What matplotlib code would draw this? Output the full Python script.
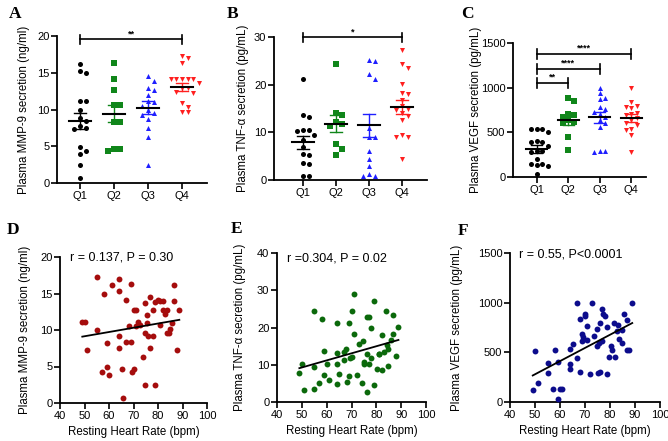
import numpy as np
import matplotlib
matplotlib.use("Agg")
import matplotlib.pyplot as plt

plt.rcParams['font.family'] = ['Liberation Sans', 'DejaVu Sans']

W, H = 668, 441

# ---------------- data ----------------
groups = ["Q1", "Q2", "Q3", "Q4"]

mmp9_q1 = [16.2, 15.3, 15.0, 11.2, 11.2, 9.9, 8.9, 8.5, 7.7, 7.5, 7.4, 4.9, 4.3, 3.9, 2.5, 0.7]
mmp9_q2 = [16.3, 14.2, 12.65, 10.6, 10.6, 8.25, 8.25, 4.6, 4.6, 4.35]
mmp9_q3 = [14.5, 13.9, 12.9, 12.7, 12.0, 11.1, 11.0, 10.5, 9.9, 9.5, 9.3, 8.7, 7.5, 6.3, 2.4]
mmp9_q4 = [17.3, 17.0, 16.3, 14.2, 14.2, 14.1, 14.1, 14.1, 13.6, 12.9, 12.9, 12.4, 12.2, 10.9, 10.4, 9.7, 9.6]
mmp9_mean = [8.44, 9.43, 10.24, 13.06]
mmp9_sem = [1.07, 1.17, 0.87, 0.6]

tnf_q1 = [21.2, 13.6, 13.2, 10.4, 10.4, 10.3, 9.4, 8.4, 7.0, 5.4, 5.2, 3.5, 3.3, 0.9, 0.9]
tnf_q2 = [24.3, 14.1, 13.6, 12.2, 11.8, 11.3, 7.5, 6.6, 5.3]
tnf_q3 = [25.1, 25.0, 22.2, 21.2, 11.0, 9.1, 9.0, 6.0, 4.5, 3.0, 1.2, 0.8, 0.8]
tnf_q4 = [27.2, 24.4, 23.4, 20.2, 18.3, 18.0, 16.7, 15.5, 15.0, 14.6, 14.0, 13.4, 12.6, 9.4, 9.1, 9.0, 4.5]
tnf_mean = [7.9, 11.8, 11.5, 15.3]
tnf_sem = [1.3, 1.8, 2.45, 1.5]

vegf_q1 = [533, 533, 508, 533, 403, 388, 388, 345, 291, 291, 284, 201, 142, 142, 134, 123, 30]
vegf_q2 = [885, 850, 705, 690, 668, 640, 615, 600, 448, 300]
vegf_q3 = [998, 935, 885, 870, 780, 760, 725, 700, 670, 640, 610, 555, 292, 292, 285]
vegf_q4 = [1000, 840, 795, 785, 770, 720, 705, 690, 655, 635, 605, 580, 535, 530, 470, 285]
vegf_mean = [313, 638, 668, 657]
vegf_sem = [40, 56, 65, 45]

sig_a = [("Q1", "Q4", 19.55, "**")]
sig_b = [("Q1", "Q4", 29.9, "*")]
sig_c = [("Q1", "Q4", 1377, "****"), ("Q1", "Q3", 1209, "****"), ("Q1", "Q2", 1056, "**")]

hr_d = [49.1, 50.2, 51.2, 55.2, 55.2, 57.0, 58.0, 59.1, 59.1, 60.0, 61.2, 63.9, 63.9, 63.9, 64.1, 65.2, 65.9,
        67.0, 67.0, 68.0, 69.0, 69.0, 69.3, 70.0, 70.0, 71.0, 71.1, 71.8, 72.7, 73.8, 74.8, 74.8, 74.8, 75.7,
        75.7, 76.1, 76.8, 76.8, 77.8, 77.9, 78.9, 78.9, 79.8, 80.9, 80.9, 81.9, 81.9, 82.7, 83.6, 83.6, 84.6,
        85.0, 85.7, 86.6, 86.6, 87.7, 88.7]
mmp9_d = [11.1, 11.1, 7.2, 17.3, 10.0, 4.3, 15.0, 4.95, 8.2, 3.9, 16.2, 17.0, 15.3, 9.2, 7.6, 4.6, 0.7,
          14.1, 8.3, 10.5, 16.3, 8.3, 4.3, 4.6, 12.7, 12.7, 10.6, 11.1, 10.7, 6.3, 13.7, 9.6, 2.4, 12.1,
          10.9, 9.2, 14.5, 7.6, 12.7, 9.2, 13.9, 2.4, 14.1, 14.0, 10.7, 14.0, 12.7, 12.2, 12.7, 9.6, 9.6,
          10.2, 10.9, 16.2, 14.0, 7.3, 12.8]

hr_e = [49.0, 50.0, 51.0, 55.0, 55.0, 55.0, 57.0, 58.1, 59.0, 59.0, 60.1, 61.0, 64.1, 64.1, 64.1, 64.1, 65.0,
        67.0, 67.0, 67.8, 68.1, 69.0, 69.0, 69.5, 70.1, 70.1, 71.0, 71.0, 72.1, 73.2, 74.1, 74.8, 75.1, 75.1,
        76.1, 76.1, 76.1, 77.1, 77.1, 77.9, 77.9, 79.1, 79.1, 80.2, 81.1, 81.1, 82.2, 82.2, 83.1, 83.9, 84.2,
        84.8, 84.8, 85.8, 86.8, 86.8, 87.9, 88.9]
tnf_e = [7.9, 10.2, 3.1, 24.4, 9.4, 3.6, 5.2, 22.3, 13.75, 7.2, 10.2, 5.8, 21.3, 13.2, 10.3, 4.8, 7.6,
         11.2, 13.5, 14.1, 5.4, 21.1, 6.9, 11.7, 12.1, 24.3, 28.9, 18.2, 7.2, 15.6, 5.2, 16.4, 10.8, 10.2,
         22.7, 12.9, 2.7, 22.7, 10.2, 19.8, 11.7, 27.1, 4.5, 8.8, 13.0, 12.8, 18.0, 8.5, 13.3, 24.4, 15.3,
         14.2, 9.6, 16.6, 23.4, 18.2, 12.3, 20.2]

hr_f = [49.1, 50.0, 51.1, 55.1, 55.1, 57.0, 58.0, 59.0, 59.1, 60.0, 60.9, 64.0, 64.0, 64.0, 65.1, 66.9, 66.9,
        68.0, 68.0, 68.9, 68.9, 69.3, 70.0, 70.0, 70.9, 70.9, 72.0, 72.9, 73.7, 74.7, 74.9, 75.1, 75.6, 76.0,
        76.0, 76.7, 76.7, 77.3, 78.0, 78.9, 78.9, 79.7, 80.4, 80.9, 81.6, 82.0, 82.7, 83.3, 83.7, 84.7, 84.7,
        85.6, 86.7, 86.7, 87.7, 88.9]
vegf_f = [125, 512, 196, 388, 287, 135, 522, 398, 27, 135, 135, 529, 381, 330, 583, 1001, 438,
          836, 297, 681, 613, 650, 886, 870, 765, 623, 280, 1001, 667, 735, 566, 293, 596, 792,
          297, 934, 617, 886, 870, 758, 280, 455, 566, 522, 792, 455, 715, 775, 634, 725, 590,
          886, 826, 522, 522, 1001]

stat_d = "r = 0.137, P = 0.30"
stat_e = "r =0.304, P = 0.02"
stat_f = "r = 0.55, P<0.0001"

# ---------------- helpers ----------------
fig = plt.figure(figsize=(W / 100, H / 100), dpi=100)


def add_ax(left, right, top, bottom):
    return fig.add_axes([left / W, 1 - bottom / H, (right - left) / W, (bottom - top) / H])


def style(ax):
    for s in ["top", "right"]:
        ax.spines[s].set_visible(False)
    for s in ["left", "bottom"]:
        ax.spines[s].set_linewidth(1.3)
    ax.tick_params(direction="out", length=4, width=1.2, labelsize=8, pad=1.5)


def swarm(vals, ppu_x, ppu_y, diam=5.6):
    vals = np.asarray(vals, float)
    order = np.argsort(-vals, kind="stable")
    placed = []
    offs = np.zeros(len(vals))
    cands = [0, 1, -1, 2, -2, 3, -3, 4, -4]
    for i in order:
        y = vals[i] * ppu_y
        for c in cands:
            x = c * diam
            if all((x - px) ** 2 + (y - py) ** 2 >= (0.95 * diam) ** 2 for px, py in placed):
                break
        placed.append((x, y))
        offs[i] = x / ppu_x
    return offs


colors = ["black", "#10861a", "#1f1fff", "#ff1f1f"]
markers = ["o", "s", "^", "v"]


def dotplot(ax, series, means, sems, ylim, yticks, ylabel, sigs, ppu_x, ppu_y, xlim, tick_dy):
    for i, vals in enumerate(series):
        x0 = i + 1
        offs = swarm(vals, ppu_x, ppu_y)
        ax.scatter(x0 + offs, vals, s=13, marker=markers[i], color=colors[i], lw=0, zorder=3, clip_on=False)
        m, e = means[i], sems[i]
        ax.plot([x0, x0], [m - e, m + e], color=colors[i], lw=1.0, zorder=4)
        ax.plot([x0 - 0.17, x0 + 0.17], [m + e, m + e], color=colors[i], lw=1.0, zorder=4)
        ax.plot([x0 - 0.17, x0 + 0.17], [m - e, m - e], color=colors[i], lw=1.0, zorder=4)
        ax.plot([x0 - 0.33, x0 + 0.33], [m, m], color="black", lw=1.5, zorder=5)
    for a, b, y, txt in sigs:
        xa, xb = groups.index(a) + 1, groups.index(b) + 1
        ax.plot([xa, xb], [y, y], color="black", lw=1.2, clip_on=False)
        for xx in (xa, xb):
            ax.plot([xx, xx], [y - tick_dy, y + tick_dy], color="black", lw=1.2, clip_on=False)
        ax.text((xa + xb) / 2, y + tick_dy * 0.25, txt, ha="center", va="bottom", fontsize=6.5,
                fontweight="bold", clip_on=False)
    ax.set_xlim(*xlim)
    ax.set_ylim(*ylim)
    ax.set_yticks(yticks)
    ax.set_xticks(range(1, 5))
    ax.set_xticklabels(groups)
    ax.set_ylabel(ylabel, fontsize=8.3)
    style(ax)


def corrplot(ax, x, y, color, ylim, yticks, ylabel, stat, stat_pos):
    ax.scatter(x, y, s=18, color=color, lw=0, zorder=3, clip_on=False)
    k, b = np.polyfit(x, y, 1)
    xs = np.array([min(x), max(x)])
    ax.plot(xs, k * xs + b, color="black", lw=1.3, zorder=4)
    ax.set_xlim(40, 100)
    ax.set_xticks(range(40, 101, 10))
    ax.set_ylim(*ylim)
    ax.set_yticks(yticks)
    ax.set_ylabel(ylabel, fontsize=8.3)
    ax.set_xlabel("Resting Heart Rate (bpm)", fontsize=8.3, labelpad=4)
    ax.text(stat_pos[0], stat_pos[1], stat, transform=ax.transAxes, fontsize=9, va="center", ha="left")
    style(ax)


# ---------------- panels ----------------
axA = add_ax(57, 207, 36, 183)
dotplot(axA, [mmp9_q1, mmp9_q2, mmp9_q3, mmp9_q4], mmp9_mean, mmp9_sem, (0, 20), range(0, 21, 5),
        "Plasma MMP-9 secretion (ng/ml)", sig_a, 34, 7.35, (0.324, 4.735), 0.6)
axA.yaxis.set_label_coords((30 - 57) / 150, 0.5)

axB = add_ax(274, 427, 37, 180)
dotplot(axB, [tnf_q1, tnf_q2, tnf_q3, tnf_q4], tnf_mean, tnf_sem, (0, 30), range(0, 31, 10),
        "Plasma TNF-\u03b1 secretion (pg/mL)", sig_b, 33, 4.767, (0.12, 4.76), 0.9)
axB.yaxis.set_label_coords((249 - 274) / 153, 0.5)

axC = add_ax(513, 646, 43, 177)
dotplot(axC, [vegf_q1, vegf_q2, vegf_q3, vegf_q4], vegf_mean, vegf_sem, (0, 1500), range(0, 1501, 500),
        "Plasma VEGF secretion (pg/mL)", sig_c, 31.3, 0.0893, (0.25, 4.47), 55)
axC.yaxis.set_label_coords((482 - 513) / 133, 0.5)

axD = add_ax(60, 207, 257, 403)
corrplot(axD, hr_d, mmp9_d, "#a50d0d", (0, 20), range(0, 21, 5), "Plasma MMP-9 secretion (ng/ml)",
         stat_d, (0.065, 1.0))
axD.yaxis.set_label_coords((31 - 60) / 147, 0.5)

axE = add_ax(277, 426, 253, 402)
corrplot(axE, hr_e, tnf_e, "#0b690b", (0, 40), range(0, 41, 10), "Plasma TNF-\u03b1 secretion (pg/mL)",
         stat_e, (0.065, 0.965))
axE.yaxis.set_label_coords((246 - 277) / 149, 0.5)

axF = add_ax(510, 660, 253, 402)
corrplot(axF, hr_f, vegf_f, "#0c0c8c", (0, 1500), range(0, 1501, 500), "Plasma VEGF secretion (pg/mL)",
         stat_f, (0.06, 0.99))
axF.yaxis.set_label_coords((463 - 510) / 150, 0.5)

for letter, (px, py) in zip("ABCDEF", [(15, 14), (233, 14), (467, 14), (13, 230), (237, 229), (463, 231)]):
    fig.text(px / W, 1 - py / H, letter, family=["Liberation Serif", "DejaVu Serif"], fontweight="bold",
             fontsize=12.5, ha="center", va="center")

fig.savefig("out.png", dpi=100)
